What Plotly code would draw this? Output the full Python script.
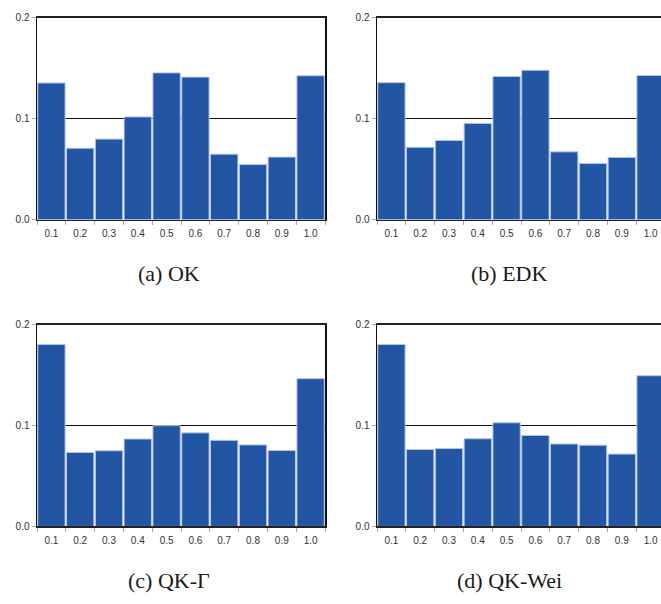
import plotly.graph_objects as go

categories = ["0.1", "0.2", "0.3", "0.4", "0.5", "0.6", "0.7", "0.8", "0.9", "1.0"]
ok_vals = [0.1354, 0.0708, 0.0798, 0.1018, 0.1454, 0.1412, 0.0649, 0.0546, 0.0620, 0.1425]
edk_vals = [0.1357, 0.0717, 0.0785, 0.0953, 0.1418, 0.1480, 0.0672, 0.0556, 0.0617, 0.1428]
qkg_vals = [0.1803, 0.0733, 0.0750, 0.0866, 0.0998, 0.0927, 0.0853, 0.0808, 0.0753, 0.1464]
qkw_vals = [0.1803, 0.0763, 0.0772, 0.0869, 0.1027, 0.0901, 0.0817, 0.0805, 0.0717, 0.1493]
captions = ["(a) OK", "(b) EDK", "(c) QK-Γ", "(d) QK-Wei"]
y_ticks = [0.0, 0.1, 0.2]
y_ticktext = ["0.0", "0.1", "0.2"]

W, H = 661, 604
unit = 28.8  # px per category

panels = [
    dict(vals=ok_vals, x0=37, x1=325, top=12, bot=218, cap=captions[0], capx=168.5, capy=273, full=True),
    dict(vals=edk_vals, x0=377, x1=661, top=12, bot=218, cap=captions[1], capx=509, capy=273, full=False),
    dict(vals=qkg_vals, x0=37, x1=325, top=325, bot=531, cap=captions[2], capx=169, capy=586, full=True),
    dict(vals=qkw_vals, x0=377, x1=661, top=325, bot=531, cap=captions[3], capx=509, capy=586, full=False),
]

fig = go.Figure()
tickfont = dict(family="Liberation Sans, Arial, sans-serif", size=10, color="#333333")

for i, p in enumerate(panels, start=1):
    xa = "x" if i == 1 else f"x{i}"
    ya = "y" if i == 1 else f"y{i}"
    fig.add_trace(go.Bar(
        x=categories, y=p["vals"], xaxis=xa, yaxis=ya,
        marker=dict(color="#2256a5", line=dict(color="#b5c7e6", width=1)),
        showlegend=False, hoverinfo="skip",
    ))
    xmax = -0.5 + (p["x1"] - p["x0"]) / unit
    fig.layout[f"xaxis{'' if i == 1 else i}"] = dict(
        domain=[p["x0"] / W, p["x1"] / W],
        anchor=ya, type="category",
        range=[-0.5, xmax],
        showline=True, linecolor="#222222", linewidth=1.5, mirror=True,
        ticks="outside", tickson="boundaries", ticklen=4, tickcolor="#aaaaaa",
        ticklabelstandoff=4,
        tickfont=tickfont, showgrid=False, zeroline=False, fixedrange=True,
    )
    fig.layout[f"yaxis{'' if i == 1 else i}"] = dict(
        domain=[1 - p["bot"] / H, 1 - p["top"] / H],
        anchor=xa, range=[0, 0.2],
        tickvals=y_ticks, ticktext=y_ticktext,
        showline=True, linecolor="#111111", linewidth=1.5, mirror=p["full"],
        ticks="outside", ticklen=4, tickcolor="#aaaaaa",
        tickfont=tickfont, showgrid=True, gridcolor="#111111", gridwidth=1,
        zeroline=False, fixedrange=True,
    )
    fig.add_annotation(
        x=p["capx"] / W, y=1 - p["capy"] / H, xref="paper", yref="paper",
        text=p["cap"], showarrow=False, xanchor="center", yanchor="middle",
        font=dict(family="Liberation Serif, DejaVu Serif, serif", size=22, color="#1a1a1a"),
    )

fig.update_layout(
    width=W, height=H, margin=dict(l=0, r=0, t=0, b=0),
    paper_bgcolor="white", plot_bgcolor="white", bargap=0.05,
)

fig.write_html(
    "out.html",
    config={"displayModeBar": False, "staticPlot": True},
    post_script="document.body.style.margin='0';document.body.style.overflow='hidden';",
)
